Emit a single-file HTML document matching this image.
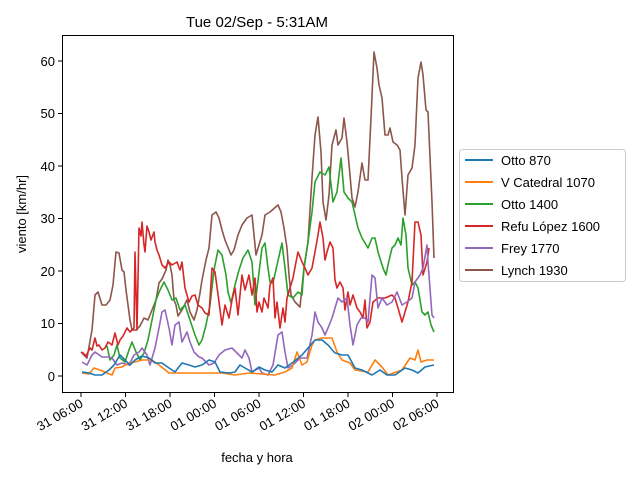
<!DOCTYPE html>
<html><head><meta charset="utf-8"><style>body{margin:0;background:#fff}svg{display:block}</style></head><body>
<svg width="640" height="480" viewBox="0 0 640 480" font-family="Liberation Sans, DejaVu Sans, sans-serif" font-size="13">
<rect width="640" height="480" fill="#fff"/>
<text x="257" y="27" text-anchor="middle" font-size="15">Tue 02/Sep - 5:31AM</text>
<g fill="none" stroke-width="1.6" stroke-linejoin="round">
<polyline stroke="#8c564b" points="81,352 87,358 92,330 95,295 98,292 102,305 106,305 110,300 113,285 116,252 119,253 122,270 124,272 126,290 130,320 132,330 136,330 140,326 144,318 148,320 152,310 156,300 159,283 162,279 166,270 168,260 170,265 172,275 174,300 176,305 178,316 182,310 187,300 190,312 194,320 197,310 200,293 202,280 206,260 209,248 212,215 216,212 219,218 222,230 225,240 229,250 231,255 234,250 238,235 242,225 247,218 252,215 254,235 256,255 262,235 265,215 270,212 278,205 281,212 284,228 287,248 289,275 291,295 295,302 300,307 304,268 308,242 312,178 315,135 318,117 321,152 323,202 326,220 329,195 332,145 336,130 338,145 342,138 344,118 347,142 350,175 352,198 355,207 358,192 362,163 365,180 368,180 371,118 374,52 377,68 379,85 382,98 385,135 388,135 390,128 393,142 397,145 400,150 402,178 405,215 408,175 412,168 415,145 418,78 421,62 423,75 426,110 428,112 432,202 434,258"/>
<polyline stroke="#2ca02c" points="107,346 110,360 114,355 117,345 120,358 125,362 129,350 132,342 136,352 140,360 144,353 148,340 152,320 156,300 160,290 164,282 168,290 172,300 176,298 180,310 185,305 190,320 195,335 199,345 202,340 206,325 210,305 214,270 218,250 222,255 226,275 228,292 231,303 235,285 239,270 243,258 248,250 252,262 255,305 262,248 265,243 268,268 270,282 273,283 277,265 282,243 285,268 288,295 293,298 298,292 302,295 304,268 308,242 312,212 315,182 320,172 325,175 329,167 333,202 337,192 341,158 344,192 348,198 352,202 358,228 362,238 368,248 372,238 375,238 378,252 383,268 386,275 388,265 392,248 395,245 398,238 401,245 403,218 406,235 408,268 412,285 415,282 418,288 422,312 425,315 428,312 431,325 434,332"/>
<polyline stroke="#d62728" points="82,352 86,356 90,348 92,350 95,338 97,346 99,345 102,350 105,348 108,342 112,345 115,333 118,345 120,340 123,336 127,328 130,332 134,328 135,252 137,330 139,228 141,236 142,222 144,245 145,252 147,226 149,232 151,240 154,232 155,242 157,250 159,255 162,265 165,268 169,262 172,265 177,262 180,270 182,262 185,288 189,302 192,296 195,295 198,305 202,308 205,313 209,315 212,268 215,272 219,302 222,325 225,305 229,318 232,300 235,288 238,315 242,275 245,290 249,275 252,295 255,278 257,312 259,302 262,312 264,298 268,308 270,285 273,278 275,318 277,302 280,328 283,308 285,322 287,298 290,288 293,278 296,262 298,252 302,262 305,268 308,275 312,268 315,252 318,235 320,222 323,238 325,260 327,252 330,242 333,248 335,280 337,288 340,282 343,288 345,310 348,292 350,305 353,295 357,308 360,312 363,318 365,300 367,328 370,322 373,302 378,298 385,298 392,295 395,298 398,308 402,322 405,312 408,302 412,282 415,222 418,222 421,235 423,275 427,262 429,248"/>
<polyline stroke="#9467bd" points="82,362 87,365 92,355 95,352 102,357 109,357 112,358 117,365 122,363 129,365 134,355 139,352 142,348 147,355 150,365 155,348 159,328 162,312 165,310 169,328 172,345 175,325 179,322 182,342 187,332 190,342 194,352 199,357 202,358 209,365 214,363 219,355 225,350 232,348 237,353 242,358 245,350 249,358 252,372 259,368 262,373 268,375 273,365 278,335 282,332 285,352 288,368 293,365 300,358 307,358 312,335 315,312 318,322 322,328 325,335 328,328 332,318 335,308 338,298 342,302 347,298 350,325 353,345 357,325 361,318 365,318 368,322 372,275 375,278 378,308 382,298 387,305 392,302 397,292 402,305 407,302 412,298 415,282 420,275 423,268 427,245 428,262 432,315 434,318"/>
<polyline stroke="#ff7f0e" points="82,373 89,374 94,368 100,370 107,373 112,375 115,368 122,367 129,363 135,362 142,360 152,360 159,365 169,373 182,373 202,373 222,373 235,375 249,373 262,374 275,375 285,372 292,368 297,352 302,365 307,362 312,345 315,340 322,338 332,338 337,352 342,360 350,363 355,370 368,372 375,360 382,367 388,375 402,370 410,358 415,360 418,350 421,362 427,360 434,360"/>
<polyline stroke="#1f77b4" points="82,372 89,373 95,375 102,375 109,370 114,365 120,355 125,360 130,365 135,360 142,356 149,358 155,363 162,363 169,368 175,372 182,363 189,365 195,367 202,365 209,360 215,362 220,372 229,373 235,372 240,365 245,368 252,372 259,367 265,370 272,372 278,365 285,368 292,363 302,355 308,348 315,340 322,340 328,345 335,353 342,355 348,355 355,368 362,370 372,375 380,370 387,375 395,375 405,368 412,370 418,373 425,367 434,365"/>
</g>
<rect x="62.5" y="35.5" width="391" height="357" fill="none" stroke="#000" stroke-width="1"/>
<g stroke="#000" stroke-width="1">
<line x1="62" y1="376" x2="58" y2="376"/><line x1="62" y1="323.5" x2="58" y2="323.5"/><line x1="62" y1="271" x2="58" y2="271"/><line x1="62" y1="218.5" x2="58" y2="218.5"/><line x1="62" y1="166" x2="58" y2="166"/><line x1="62" y1="113.5" x2="58" y2="113.5"/><line x1="62" y1="61" x2="58" y2="61"/>
<line x1="81" y1="393" x2="81" y2="397"/><line x1="125.5" y1="393" x2="125.5" y2="397"/><line x1="170" y1="393" x2="170" y2="397"/><line x1="214.5" y1="393" x2="214.5" y2="397"/><line x1="259" y1="393" x2="259" y2="397"/><line x1="303.5" y1="393" x2="303.5" y2="397"/><line x1="348" y1="393" x2="348" y2="397"/><line x1="392.5" y1="393" x2="392.5" y2="397"/><line x1="437" y1="393" x2="437" y2="397"/>
</g>
<g text-anchor="end" font-size="13">
<text x="55" y="381">0</text><text x="55" y="328">10</text><text x="55" y="276">20</text><text x="55" y="223">30</text><text x="55" y="171">40</text><text x="55" y="118">50</text><text x="55" y="66">60</text>
</g>
<g text-anchor="end" font-size="13">
<text transform="translate(84,406) rotate(-30)">31 06:00</text>
<text transform="translate(128.5,406) rotate(-30)">31 12:00</text>
<text transform="translate(173,406) rotate(-30)">31 18:00</text>
<text transform="translate(217.5,406) rotate(-30)">01 00:00</text>
<text transform="translate(262,406) rotate(-30)">01 06:00</text>
<text transform="translate(306.5,406) rotate(-30)">01 12:00</text>
<text transform="translate(351,406) rotate(-30)">01 18:00</text>
<text transform="translate(395.5,406) rotate(-30)">02 00:00</text>
<text transform="translate(440,406) rotate(-30)">02 06:00</text>
</g>
<text x="257" y="462" text-anchor="middle">fecha y hora</text>
<text transform="translate(26,214) rotate(-90)" text-anchor="middle">viento [km/hr]</text>
<rect x="459.5" y="149.5" width="166" height="132" rx="3" fill="#fff" stroke="#ccc"/>
<g stroke-width="2">
<line x1="465" y1="160" x2="493" y2="160" stroke="#1f77b4"/>
<line x1="465" y1="182" x2="493" y2="182" stroke="#ff7f0e"/>
<line x1="465" y1="204" x2="493" y2="204" stroke="#2ca02c"/>
<line x1="465" y1="226" x2="493" y2="226" stroke="#d62728"/>
<line x1="465" y1="248" x2="493" y2="248" stroke="#9467bd"/>
<line x1="465" y1="270" x2="493" y2="270" stroke="#8c564b"/>
</g>
<g font-size="13">
<text x="501" y="165">Otto 870</text>
<text x="501" y="187">V Catedral 1070</text>
<text x="501" y="209">Otto 1400</text>
<text x="501" y="231">Refu López 1600</text>
<text x="501" y="253">Frey 1770</text>
<text x="501" y="275">Lynch 1930</text>
</g>
</svg>
</body></html>
